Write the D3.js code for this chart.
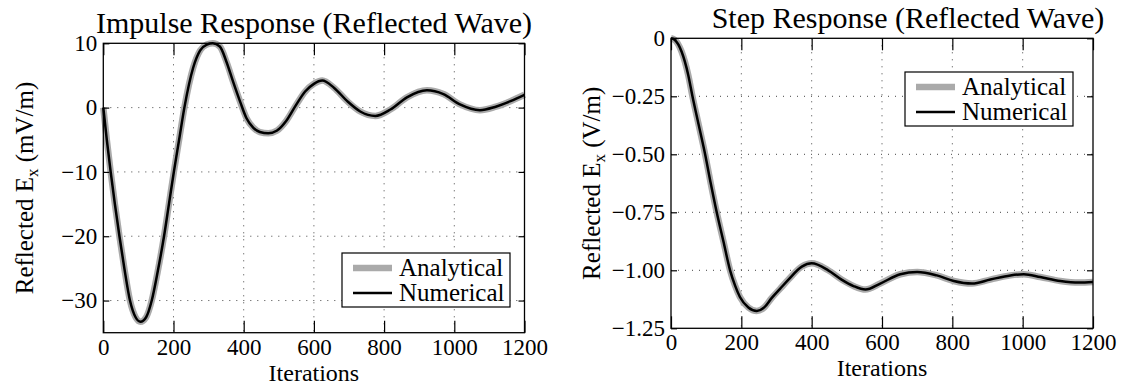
<!DOCTYPE html>
<html>
<head>
<meta charset="utf-8">
<script src="https://cdn.jsdelivr.net/npm/d3@7"></script>
<style>
  body { margin: 0; background: #fff; }
  svg { display: block; }
  text { font-family: "Liberation Serif", "Times New Roman", serif; fill: #000; }
</style>
</head>
<body>
<script>
// impulse response (iteration, mV/m)
const impulseIter = [0, 10, 21, 33, 46, 60, 76, 92, 106, 122, 138, 155, 173, 187, 201, 216, 231, 256, 276, 295, 312, 332, 351, 370, 390, 408, 427, 446, 470, 494, 522, 548, 575, 600, 624, 657, 695, 732, 775, 818, 865, 922, 969, 1016, 1073, 1116, 1160, 1200];
const impulseVal = [0, -5, -10, -15, -20, -25, -30, -32.6, -33.3, -32.6, -30, -25.5, -20, -15, -10, -5, 0, 6.2, 8.9, 9.8, 10.0, 9.5, 7.1, 4.0, 0.9, -1.65, -3.1, -3.8, -4.0, -3.6, -2.0, 0.3, 2.5, 3.7, 4.2, 3.1, 1.0, -0.6, -1.3, -0.3, 1.6, 2.7, 2.1, 0.5, -0.4, 0.1, 1.0, 2.0];

// step response (iteration, V/m)
const stepIter = [0, 11, 30, 49, 61, 79, 97, 113, 130, 149, 168, 182, 196, 220, 244, 265, 286, 310, 334, 372, 400, 447, 485, 519, 553, 595, 652, 700, 756, 804, 856, 908, 965, 1003, 1050, 1107, 1160, 1200];
const stepVal = [0, -0.007, -0.057, -0.158, -0.25, -0.375, -0.5, -0.625, -0.75, -0.875, -1.0, -1.065, -1.115, -1.16, -1.175, -1.16, -1.12, -1.08, -1.04, -0.984, -0.97, -1.0, -1.04, -1.068, -1.083, -1.057, -1.017, -1.007, -1.022, -1.046, -1.057, -1.04, -1.022, -1.017, -1.029, -1.046, -1.053, -1.05];

// ticks
const xTicks = [0, 200, 400, 600, 800, 1000, 1200];
const impulseTicks = [10, 0, -10, -20, -30];
const impulseTickLabels = ["10", "0", "\u221210", "\u221220", "\u221230"];
const stepTicks = [0, -0.25, -0.5, -0.75, -1.0, -1.25];
const stepTickLabels = ["0", "\u22120.25", "\u22120.50", "\u22120.75", "\u22121.00", "\u22121.25"];
const legendNames = ["Analytical", "Numerical"];

const svg = d3.select("body").append("svg")
  .attr("width", 1124)
  .attr("height", 388);

function panel(o) {
  const x = d3.scaleLinear().domain([0, 1200]).range([o.left, o.right]);
  const y = d3.scaleLinear().domain(o.yDomain).range([o.bottom, o.top]);
  const g = svg.append("g");

  // dotted grid
  g.selectAll(".gx").data(xTicks.slice(1, -1)).enter().append("line")
    .attr("x1", d => x(d)).attr("x2", d => x(d))
    .attr("y1", o.top).attr("y2", o.bottom)
    .attr("stroke", "#444").attr("stroke-width", 1).attr("stroke-dasharray", "1,6");
  g.selectAll(".gy").data(o.yTicks.filter(d => d != o.yDomain[0] && d != o.yDomain[1])).enter().append("line")
    .attr("y1", d => y(d)).attr("y2", d => y(d))
    .attr("x1", o.left).attr("x2", o.right)
    .attr("stroke", "#444").attr("stroke-width", 1).attr("stroke-dasharray", "1,6");

  // the curves, same readings for both series
  const pts = o.iter.map((d, i) => [d, o.val[i]]);
  const line = d3.line().x(d => x(d[0])).y(d => y(d[1])).curve(d3.curveMonotoneX);
  g.append("path").datum(pts).attr("d", line)
    .attr("fill", "none").attr("stroke", "#aaaaaa").attr("stroke-width", 6.5);
  g.append("path").datum(pts).attr("d", line)
    .attr("fill", "none").attr("stroke", "#000").attr("stroke-width", 2.5);

  // axes: ticks point inward, box on
  const ax = g.append("g").attr("transform", `translate(0,${o.bottom})`)
    .call(d3.axisBottom(x).tickValues(xTicks).tickSizeInner(-12).tickSizeOuter(0).tickPadding(o.xPad)
      .tickFormat(d3.format("d")));
  const axTop = g.append("g").attr("transform", `translate(0,${o.top})`)
    .call(d3.axisTop(x).tickValues(xTicks).tickSizeInner(-12).tickSizeOuter(0).tickFormat(""));
  const ay = g.append("g").attr("transform", `translate(${o.left},0)`)
    .call(d3.axisLeft(y).tickValues(o.yTicks).tickSizeInner(-6).tickSizeOuter(0).tickPadding(6)
      .tickFormat((d, i) => o.yLabels[i]));
  const ayR = g.append("g").attr("transform", `translate(${o.right},0)`)
    .call(d3.axisRight(y).tickValues(o.yTicks).tickSizeInner(-6).tickSizeOuter(0).tickFormat(""));
  [ax, axTop, ay, ayR].forEach(a => {
    a.attr("font-family", null).attr("font-size", null);
    a.select(".domain").remove();
    a.selectAll("line").attr("stroke", "#000").attr("stroke-width", 1.2);
    a.selectAll("text").style("font-size", "23px");
  });
  g.append("rect")
    .attr("x", o.left).attr("y", o.top)
    .attr("width", o.right - o.left).attr("height", o.bottom - o.top)
    .attr("fill", "none").attr("stroke", "#000").attr("stroke-width", 1.3);

  // title and labels
  g.append("text").attr("x", o.titleX).attr("y", o.top - 10)
    .attr("text-anchor", "middle").style("font-size", "30px").text(o.title);
  g.append("text").attr("x", (o.left + o.right) / 2).attr("y", o.xLabelY)
    .attr("text-anchor", "middle").style("font-size", "24px").text("Iterations");
  const yl = g.append("text")
    .attr("transform", `translate(${o.yLabelX},${(o.top + o.bottom) / 2}) rotate(-90)`)
    .attr("text-anchor", "middle").style("font-size", "25px");
  yl.append("tspan").text("Reflected E");
  yl.append("tspan").attr("dy", 5).style("font-size", "17px").text("x");
  yl.append("tspan").attr("dy", -5).text(" (" + o.unit + ")");

  // legend
  const lg = g.append("g").attr("transform", `translate(${o.legX},${o.legY})`);
  lg.append("rect").attr("width", 168).attr("height", 54)
    .attr("fill", "#fff").attr("stroke", "#000").attr("stroke-width", 1.2);
  legendNames.forEach((name, i) => {
    const ly = 15 + i * 25;
    lg.append("line").attr("x1", 11).attr("x2", 50).attr("y1", ly).attr("y2", ly)
      .attr("stroke", i == 0 ? "#aaaaaa" : "#000").attr("stroke-width", i == 0 ? 6.5 : 2.5);
    lg.append("text").attr("x", 57).attr("y", ly + 8).style("font-size", "25px").text(name);
  });
}

panel({
  left: 103.3, right: 524.5, top: 43.3, bottom: 332.7,
  yDomain: [-35, 10], yTicks: impulseTicks, yLabels: impulseTickLabels,
  iter: impulseIter, val: impulseVal,
  title: "Impulse Response (Reflected Wave)", titleX: 314,
  unit: "mV/m", yLabelX: 33, xLabelY: 381, xPad: 6,
  legX: 342, legY: 253
});

panel({
  left: 671, right: 1093, top: 38.3, bottom: 328.3,
  yDomain: [-1.25, 0], yTicks: stepTicks, yLabels: stepTickLabels,
  iter: stepIter, val: stepVal,
  title: "Step Response (Reflected Wave)", titleX: 908,
  unit: "V/m", yLabelX: 600, xLabelY: 376, xPad: 5,
  legX: 905, legY: 72
});
</script>
</body>
</html>
